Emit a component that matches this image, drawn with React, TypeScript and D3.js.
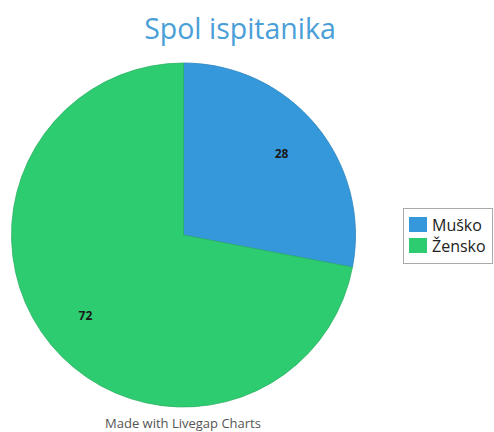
import { useEffect, useRef } from "react";
import * as d3 from "d3";

const categories = ["Muško", "Žensko"];
const values = [28, 72];
const colors = ["#3498db", "#2ecc71"];
const title = "Spol ispitanika";
const credit = "Made with Livegap Charts";

export default function App() {
  const svgRef = useRef<SVGSVGElement | null>(null);

  useEffect(() => {
    const el = svgRef.current;
    if (!el) return;
    const W = 494;
    const H = 432;
    const cx = 183.5;
    const cy = 235;
    const R = 172;

    d3.select(el).selectAll("*").remove();
    const svg = d3.select(el).attr("viewBox", `0 0 ${W} ${H}`);

    svg.append("text")
      .attr("x", 240)
      .attr("y", 39)
      .attr("text-anchor", "middle")
      .attr("font-family", "Open Sans")
      .attr("font-size", 28.5)
      .attr("fill", "#4a9fd8")
      .text(title);

    const pie = d3.pie<number>().sort(null).value(d => d);
    const arcs = pie(values);
    const arc = d3.arc<d3.PieArcDatum<number>>().innerRadius(0).outerRadius(R);
    const labelArc = d3.arc<d3.PieArcDatum<number>>().innerRadius(R * 0.74).outerRadius(R * 0.74);

    const g = svg.append("g").attr("transform", `translate(${cx},${cy})`);

    g.selectAll("path.slice")
      .data(arcs)
      .join("path")
      .attr("class", "slice")
      .attr("d", arc)
      .attr("fill", (_, i) => colors[i])
      .attr("stroke", (_, i) => d3.color(colors[i])!.darker(0.4).toString())
      .attr("stroke-width", 0.8);

    g.selectAll("text.lbl")
      .data(arcs)
      .join("text")
      .attr("class", "lbl")
      .attr("transform", d => `translate(${labelArc.centroid(d)})`)
      .attr("text-anchor", "middle")
      .attr("dy", "0.35em")
      .attr("font-family", "Open Sans")
      .attr("font-weight", "bold")
      .attr("font-size", 12)
      .attr("fill", "#1a1a1a")
      .text(d => String(d.data));

    // Legend
    const lg = svg.append("g").attr("transform", "translate(403,208)");
    lg.append("rect")
      .attr("x", 0.5).attr("y", 0.5)
      .attr("width", 89).attr("height", 55)
      .attr("fill", "#fff")
      .attr("stroke", "#aaa")
      .attr("stroke-width", 1);

    const item = lg.selectAll("g.item")
      .data(categories)
      .join("g")
      .attr("class", "item")
      .attr("transform", (_, i) => `translate(6,${9 + i * 21})`);

    item.append("rect")
      .attr("width", 18).attr("height", 15)
      .attr("fill", (_, i) => colors[i]);

    item.append("text")
      .attr("x", 23)
      .attr("y", 14)
      .attr("font-family", "Open Sans")
      .attr("font-size", 16)
      .attr("fill", "#222")
      .text(d => d);

    svg.append("text")
      .attr("x", 183)
      .attr("y", 428)
      .attr("text-anchor", "middle")
      .attr("font-family", "Open Sans")
      .attr("font-size", 13)
      .attr("fill", "#555")
      .text(credit);
  }, []);

  return (
    <div style={{ position: "fixed", left: 0, top: 0, width: 494, height: 432, background: "#fff" }}>
      <svg ref={svgRef} width={494} height={432} style={{ display: "block" }} />
    </div>
  );
}
